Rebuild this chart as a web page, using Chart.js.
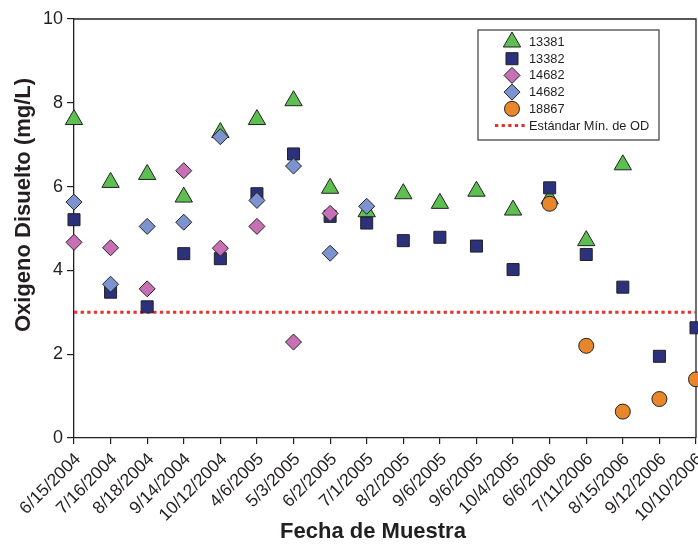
<!DOCTYPE html>
<html>
<head>
<meta charset="utf-8">
<script src="https://cdn.jsdelivr.net/npm/chart.js@4.4.0/dist/chart.umd.min.js"></script>
<style>
  body { margin: 0; background: #fff; }
</style>
</head>
<body>
<canvas id="canvas" width="698" height="544"></canvas>
<script>
// fechas de muestreo (eje x)
var fechas = ['6/15/2004', '7/16/2004', '8/18/2004', '9/14/2004', '10/12/2004', '4/6/2005',
    '5/3/2005', '6/2/2005', '7/1/2005', '8/2/2005', '9/6/2005', '9/6/2005', '10/4/2005',
    '6/6/2006', '7/11/2006', '8/15/2006', '9/12/2006', '10/10/2006'];

// oxigeno disuelto por estacion (mg/L)
var st13381 = [7.60, 6.10, 6.29, 5.75, 7.29, 7.60, 8.05, 5.96, 5.40, 5.83, 5.60, 5.89, 5.44, 5.71, 4.71, 6.52, null, null];
var st13382 = [5.21, 3.48, 3.13, 4.40, 4.28, 5.83, 6.78, 5.29, 5.13, 4.71, 4.79, 4.58, 4.02, 5.97, 4.38, 3.60, 1.95, 2.63];
var st14682a = [4.67, 4.54, 3.56, 6.38, 4.53, 5.05, 2.29, 5.36, null, null, null, null, null, null, null, null, null, null];
var st14682b = [5.63, 3.67, 5.05, 5.15, 7.19, 5.67, 6.49, 4.41, 5.53, null, null, null, null, null, null, null, null, null];
var st18867 = [null, null, null, null, null, null, null, null, null, null, null, null, null, 5.59, 2.20, 0.63, 0.93, 1.40];
var odMinimo = 3;

var yTicks = [0, 2, 4, 6, 8, 10];
var tituloX = 'Fecha de Muestra';
var tituloY = 'Oxigeno Disuelto (mg/L)';
var ink = '#231f20';
var familia = '"Liberation Sans", Arial, Helvetica, sans-serif';

Chart.defaults.font.family = familia;

var lineaOD = fechas.map(function() { return odMinimo; });

function serie(label, data, style, color, radius, order) {
    return {
        label: label,
        data: data,
        showLine: false,
        pointStyle: style,
        pointRadius: radius,
        pointBackgroundColor: color,
        pointBorderColor: '#222222',
        pointBorderWidth: 1,
        order: order
    };
}

// marco superior/derecho y titulos de ejes (algo descentrados en el original)
var marco = {
    id: 'marco',
    beforeDatasetsDraw: function(chart) {
        var a = chart.chartArea, ctx = chart.ctx;
        ctx.save();
        ctx.strokeStyle = ink;
        ctx.lineWidth = 1.3;
        ctx.beginPath();
        ctx.moveTo(a.left, a.top);
        ctx.lineTo(a.right, a.top);
        ctx.lineTo(a.right, a.bottom);
        ctx.stroke();
        ctx.font = 'bold 22px ' + familia;
        ctx.fillStyle = ink;
        ctx.textAlign = 'center';
        ctx.textBaseline = 'middle';
        ctx.fillText(tituloX, 373, 532);
        ctx.translate(24, 205);
        ctx.rotate(-Math.PI / 2);
        ctx.fillText(tituloY, 0, 0);
        ctx.restore();
    }
};

var leyenda = {
    id: 'leyenda',
    afterDraw: function(chart) {
        var a = chart.chartArea, ctx = chart.ctx;
        var x0 = a.left + 404, y0 = a.top + 11, w = 181, h = 110;
        ctx.save();
        ctx.fillStyle = '#fff';
        ctx.fillRect(x0, y0, w, h);
        ctx.strokeStyle = '#3a3a3a';
        ctx.lineWidth = 1.2;
        ctx.strokeRect(x0, y0, w, h);
        ctx.font = '12.8px ' + familia;
        ctx.textBaseline = 'middle';
        chart.data.datasets.forEach(function(ds, i) {
            var y = y0 + 12 + i * 16.7;
            if (ds.showLine) {
                ctx.strokeStyle = ds.borderColor;
                ctx.lineWidth = ds.borderWidth;
                ctx.setLineDash(ds.borderDash);
                ctx.beginPath();
                ctx.moveTo(x0 + 17, y);
                ctx.lineTo(x0 + 48, y);
                ctx.stroke();
                ctx.setLineDash([]);
            } else {
                ctx.fillStyle = ds.pointBackgroundColor;
                ctx.strokeStyle = ds.pointBorderColor;
                ctx.lineWidth = ds.pointBorderWidth;
                Chart.helpers.drawPoint(ctx, {
                    pointStyle: ds.pointStyle, radius: ds.pointRadius, rotation: 0, borderWidth: 1
                }, x0 + 34, y);
            }
            ctx.fillStyle = ink;
            ctx.fillText(ds.label, x0 + 51, y + 0.5);
        });
        ctx.restore();
    }
};

var ctx = document.getElementById('canvas').getContext('2d');
new Chart(ctx, {
    type: 'line',
    data: {
        labels: fechas,
        datasets: [
            serie('13381', st13381, 'triangle', '#5cbf50', 10, 5),
            serie('13382', st13382, 'rect', '#2b317a', 8.5, 4),
            serie('14682', st14682a, 'rectRot', '#c870b6', 8, 3),
            serie('14682', st14682b, 'rectRot', '#7d93cf', 8, 2),
            serie('18867', st18867, 'circle', '#e8862c', 7.5, 1),
            {
                label: 'Estándar Mín. de OD',
                data: lineaOD,
                showLine: true,
                borderColor: '#e8322c',
                borderWidth: 3,
                borderDash: [3.3, 3.3],
                pointRadius: 0,
                fill: false,
                order: 6
            }
        ]
    },
    options: {
        responsive: false,
        animation: false,
        events: [],
        layout: { autoPadding: false, padding: { top: 19, right: 2, left: 0, bottom: 0 } },
        plugins: {
            legend: { display: false },
            tooltip: { enabled: false }
        },
        scales: {
            x: {
                offset: false,
                grid: { drawOnChartArea: false, tickLength: 6, color: ink, lineWidth: 1.2 },
                border: { color: ink, width: 1.3 },
                ticks: {
                    autoSkip: false, minRotation: 45, maxRotation: 45,
                    font: { size: 17.5 }, color: ink, padding: 5, labelOffset: 4
                },
                afterFit: function(s) {
                    s.height = 106;
                    s.paddingLeft = 0;
                    s.paddingRight = 0;
                }
            },
            y: {
                min: 0, max: 10,
                afterBuildTicks: function(s) { s.ticks = yTicks.map(function(v) { return { value: v }; }); },
                grid: { drawOnChartArea: false, tickLength: 7, color: ink, lineWidth: 1.2 },
                border: { color: ink, width: 1.3 },
                ticks: { font: { size: 18 }, color: ink, padding: 4 },
                afterFit: function(s) {
                    s.width = 74;
                    s.paddingTop = 0;
                    s.paddingBottom = 0;
                }
            }
        }
    },
    plugins: [marco, leyenda]
});
</script>
</body>
</html>
